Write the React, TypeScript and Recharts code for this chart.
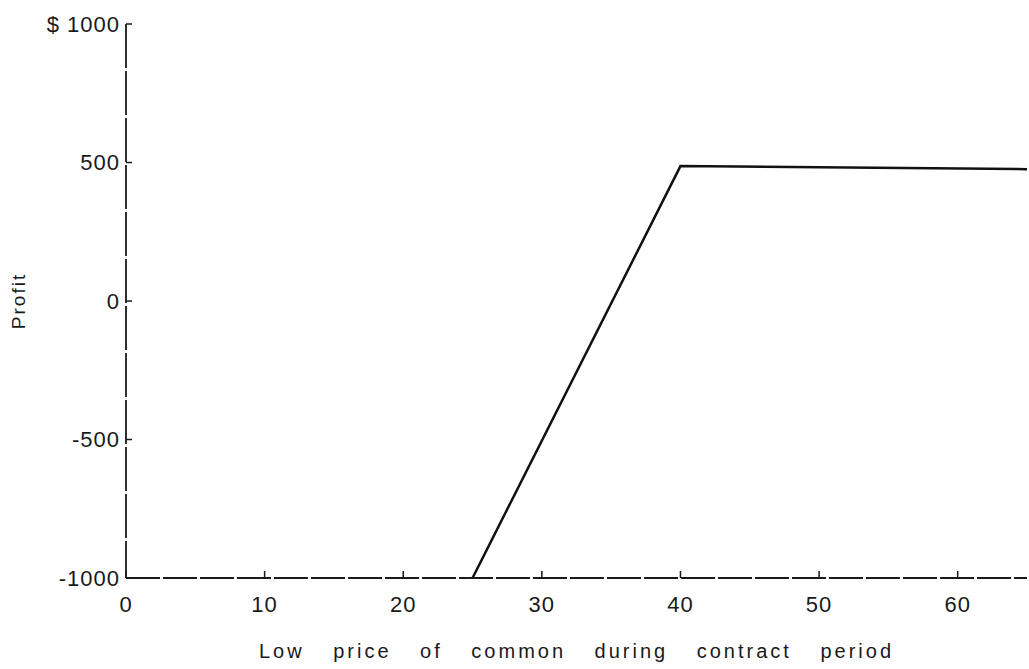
import React from 'react';
import { LineChart, Line, XAxis, YAxis } from 'recharts';

// values
const lowPrice = [25, 40, 65];
const profit = [-1000, 487, 476];

const priceTicks = [0, 10, 20, 30, 40, 50, 60];
const profitTicks = [-1000, -500, 0, 500, 1000];

const chartData = lowPrice.map((price, i) => ({ price, profit: profit[i] }));

const FONT = '"Liberation Sans", Arial, sans-serif';
const INK = '#1a1a1a';

const formatProfit = (v: number) => (v === 1000 ? '$ 1000' : String(v));

const ProfitLabel = ({ viewBox }: any) => {
  const cy = viewBox.y + viewBox.height / 2;
  return (
    <text
      x={18}
      y={cy}
      transform={`rotate(-90, 18, ${cy})`}
      textAnchor="middle"
      dominantBaseline="central"
      fontFamily={FONT}
      fontSize={19}
      letterSpacing={2}
      fill={INK}
    >
      Profit
    </text>
  );
};

const PriceLabel = ({ viewBox }: any) => {
  const cx = viewBox.x + viewBox.width / 2;
  return (
    <text
      x={cx}
      y={viewBox.y + 80}
      textAnchor="middle"
      fontFamily={FONT}
      fontSize={20}
      letterSpacing={3}
      wordSpacing={20}
      fill={INK}
    >
      Low price of common during contract period
    </text>
  );
};

const App: React.FC = () => (
  <div style={{ position: 'absolute', left: 0, top: 0, background: '#fff' }}>
    <LineChart
      width={1029}
      height={669}
      data={chartData}
      margin={{ top: 24, right: 2, left: 0, bottom: 0 }}
    >
      <XAxis
        dataKey="price"
        type="number"
        domain={[0, 65]}
        ticks={priceTicks}
        allowDataOverflow
        height={91}
        axisLine={{ stroke: INK, strokeWidth: 1.8, strokeDasharray: '34 3' }}
        tickLine={{ stroke: INK, strokeWidth: 1.5 }}
        tickSize={-7}
        tickMargin={25}
        tick={{ fill: INK, fontSize: 22, fontFamily: FONT, letterSpacing: 1 }}
        label={<PriceLabel />}
      />
      <YAxis
        type="number"
        domain={[-1000, 1000]}
        ticks={profitTicks}
        tickFormatter={formatProfit}
        allowDataOverflow
        width={126}
        axisLine={{ stroke: INK, strokeWidth: 1.8, strokeDasharray: '44 3' }}
        tickLine={{ stroke: INK, strokeWidth: 1.5 }}
        tickSize={-6}
        tickMargin={12}
        tick={{ fill: INK, fontSize: 22, fontFamily: FONT, letterSpacing: 1 }}
        label={<ProfitLabel />}
      />
      <Line
        type="linear"
        dataKey="profit"
        stroke="#111"
        strokeWidth={2.5}
        dot={false}
        isAnimationActive={false}
      />
    </LineChart>
  </div>
);

export default App;
